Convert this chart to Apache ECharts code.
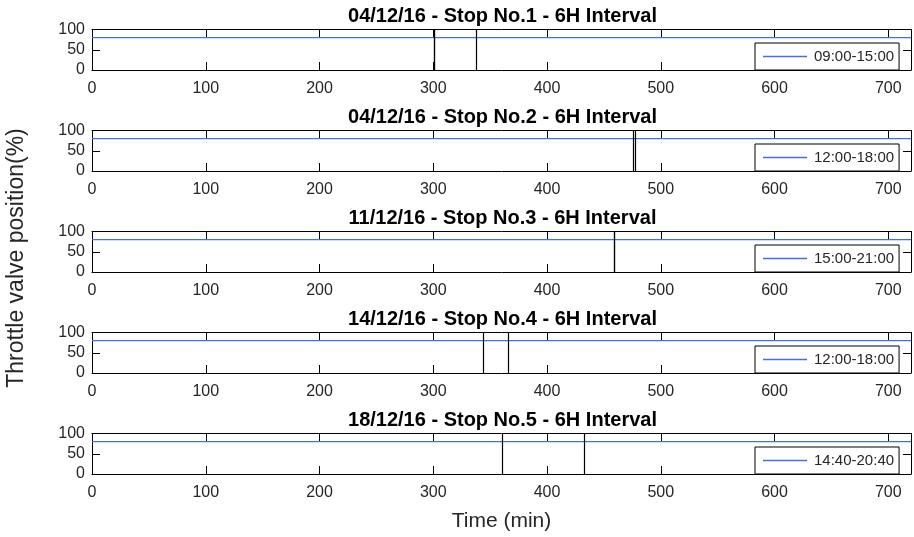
<!DOCTYPE html>
<html>
<head>
<meta charset="utf-8">
<script src="https://cdn.jsdelivr.net/npm/echarts@6/dist/echarts.min.js"></script>
<style>
html,body{margin:0;padding:0;background:#fff;}
#c{width:914px;height:537px;}
</style>
</head>
<body>
<div id="c"></div>
<script>
// ---- data ----
const titles = [
  '04/12/16 - Stop No.1 - 6H Interval',
  '04/12/16 - Stop No.2 - 6H Interval',
  '11/12/16 - Stop No.3 - 6H Interval',
  '14/12/16 - Stop No.4 - 6H Interval',
  '18/12/16 - Stop No.5 - 6H Interval'
];
const intervals = ['09:00-15:00', '12:00-18:00', '15:00-21:00', '12:00-18:00', '14:40-20:40'];
const timeRange = [0, 720];
const throttleLevel = [80, 80, 80, 80, 80];
const stopTimes = [
  [300.6, 301.3, 337.5],
  [475.6, 477.9],
  [458.8, 459.4],
  [344.2, 365.8],
  [360.9, 432.7]
];
const xTicks = [0, 100, 200, 300, 400, 500, 600, 700];
const yTicks = [0, 50, 100];
const xLabel = 'Time (min)';
const yLabel = 'Throttle valve position(%)';

// ---- layout ----
const gridTops = [29.5, 130.5, 231.5, 332.5, 433.5];
const gridH = 40.5;
const gridLeft = 92, gridRight = 1;
const blue = '#4a6fcf';
const txt = '#262626';
const FONT = 'Liberation Sans, Arial, Helvetica, sans-serif';

const option = {
  animation: false,
  backgroundColor: '#fff',
  title: [], grid: [], xAxis: [], yAxis: [], series: [], legend: [],
  graphic: [{
    type: 'text', x: 17, y: 258, rotation: Math.PI / 2,
    style: {text: yLabel, font: '23px ' + FONT, fill: txt, align: 'center', verticalAlign: 'middle'}
  }]
};

titles.forEach((t, i) => {
  const top = gridTops[i];
  option.title.push({
    text: t, left: (gridLeft + 914 - gridRight) / 2, top: top - 23.5, textAlign: 'center',
    textStyle: {fontFamily: FONT, fontSize: 20, fontWeight: 'bold', color: '#000'}, padding: 0
  });
  option.grid.push({left: gridLeft, right: gridRight, top: top, height: gridH, containLabel: false});
  const common = {
    type: 'value', min: timeRange[0], max: timeRange[1], interval: 100, gridIndex: i,
    axisLine: {show: true, onZero: false, lineStyle: {color: '#000', width: 1}},
    axisTick: {show: true, inside: true, length: 8, lineStyle: {color: '#000'}},
    splitLine: {show: false}
  };
  option.xAxis.push(Object.assign({}, common, {
    position: 'bottom',
    axisLabel: {show: true, margin: 11, color: txt, fontFamily: FONT, fontSize: 16,
      formatter: v => xTicks.includes(v) ? String(v) : ''},
    name: i === 4 ? xLabel : '', nameLocation: 'middle', nameGap: 37,
    nameTextStyle: {fontFamily: FONT, fontSize: 21, color: txt}
  }));
  option.xAxis.push(Object.assign({}, common, {
    position: 'top', axisLabel: {show: false}
  }));
  const ycommon = {
    type: 'value', min: 0, max: 100, interval: 50, gridIndex: i,
    axisLine: {show: true, onZero: false, lineStyle: {color: '#000', width: 1}},
    axisTick: {show: true, inside: true, length: 8, lineStyle: {color: '#000'}},
    splitLine: {show: false}
  };
  option.yAxis.push(Object.assign({}, ycommon, {
    position: 'left',
    axisLabel: {show: true, margin: 7, color: txt, fontFamily: FONT, fontSize: 16,
      formatter: v => yTicks.includes(v) ? String(v) : ''}
  }));
  option.yAxis.push(Object.assign({}, ycommon, {
    position: 'right', axisLabel: {show: false}
  }));
  option.series.push({
    name: intervals[i] + '#' + i,
    type: 'line', xAxisIndex: 2 * i, yAxisIndex: 2 * i,
    symbol: 'none', silent: true,
    lineStyle: {color: blue, width: 1.2}, itemStyle: {color: blue},
    data: [[timeRange[0], throttleLevel[i]], [timeRange[1], throttleLevel[i]]],
    markLine: {
      silent: true, symbol: 'none', label: {show: false},
      lineStyle: {color: '#000', width: 1.2, type: 'solid'},
      data: stopTimes[i].map(x => ({xAxis: x}))
    },
    z: 3
  });
  option.legend.push({
    data: [intervals[i] + '#' + i],
    formatter: n => n.split('#')[0],
    left: 755, top: top + 13.5, orient: 'horizontal',
    icon: 'rect', itemWidth: 44, itemHeight: 1.3, itemGap: 6,
    itemStyle: {color: blue},
    padding: [6, 5, 6, 8],
    borderColor: '#000', borderWidth: 1, backgroundColor: '#fff',
    textStyle: {fontFamily: FONT, fontSize: 15, color: txt, padding: [0, 0, 0, 2]},
    selectedMode: false, z: 10
  });
});

const chart = echarts.init(document.getElementById('c'), null, {renderer: 'canvas'});
chart.setOption(option);
</script>
</body>
</html>
